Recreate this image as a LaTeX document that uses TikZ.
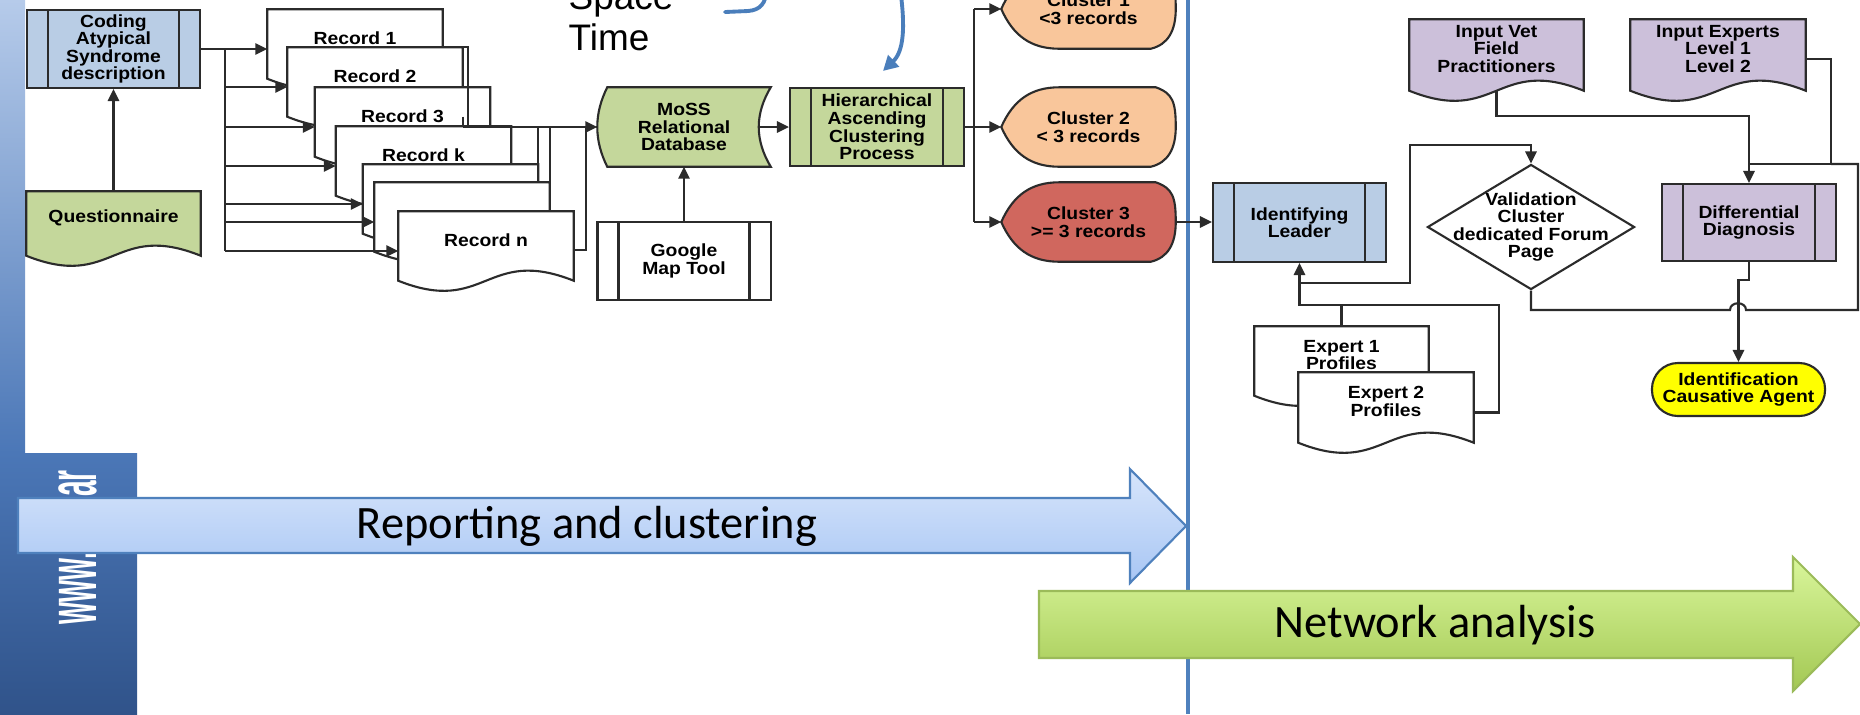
\documentclass[tikz,border=0pt]{standalone}
\usepackage{fontspec}
\setmainfont{Liberation Sans}
\newfontfamily\diagfont{Liberation Sans}[FakeStretch=1.1]
\newfontfamily\calfont{Carlito}
\usetikzlibrary{calc,arrows.meta,shapes.geometric}
\pgfdeclarelayer{back}
\pgfdeclarelayer{bg}
\pgfdeclarelayer{front}
\pgfsetlayers{back,bg,main,front}
\definecolor{lc}{HTML}{2B2B2B}
\definecolor{bgf}{HTML}{B9CDE5}
\definecolor{gf}{HTML}{C4D79B}
\definecolor{peach}{HTML}{F9C69B}
\definecolor{redf}{HTML}{D0675E}
\definecolor{lav}{HTML}{CCC0DA}
\definecolor{yel}{HTML}{FFFF00}
\definecolor{divblue}{HTML}{4F81BD}
\definecolor{blu}{HTML}{4A7EBB}
\definecolor{repA}{HTML}{D7E5FB}
\definecolor{repB}{HTML}{A8C6F4}
\definecolor{netA}{HTML}{D9F69B}
\definecolor{netB}{HTML}{A3C853}
\definecolor{netE}{HTML}{9BBB59}
\definecolor{barA}{HTML}{B6CBEA}
\definecolor{barB}{HTML}{4B77B7}
\definecolor{barC}{HTML}{30538A}
\tikzset{
 ln/.style={draw=lc, line width=0.6pt},
 arr/.style={draw=lc, line width=0.6pt, -{Triangle[length=3.4pt,width=3.2pt]}},
 txt/.style={inner sep=0pt, align=center, font=\diagfont\bfseries\fontsize{5}{5}\selectfont, text=black},
 box/.style={txt, ln, rectangle},
 pp/.style={box, path picture={\draw[lc, line width=0.6pt]
   ([xshift=0.21cm]path picture bounding box.north west) -- ([xshift=0.21cm]path picture bounding box.south west)
   ([xshift=-0.21cm]path picture bounding box.north east) -- ([xshift=-0.21cm]path picture bounding box.south east);}},
 shp/.style={txt, rectangle, draw=none},
 bluline/.style={draw=blu, line width=1.1pt, line cap=round},
}
\newcommand\docshape[2]{%
 \begin{pgfonlayer}{bg}
 \path[ln,fill=#2] (#1.north west) -- (#1.north east) -- ($(#1.south east)+(0,12)$)
   .. controls ($(#1.south)+(0,-23)$) and ($(#1.south)+(0,47)$) .. ($(#1.south west)+(0,12)$) -- cycle;
 \end{pgfonlayer}}
\newcommand\dispshape[2]{%
 \begin{pgfonlayer}{bg}
 \path[ln,fill=#2] (#1.west) .. controls ($(#1.west)+(12,-27)$) and ($(#1.north west)+(30,0)$) .. ($(#1.north west)+(58,0)$)
   -- ($(#1.north east)+(-20,0)$) .. controls ($(#1.north east)+(-3,6)$) and ($(#1.east)+(0,-25)$) .. (#1.east)
   .. controls ($(#1.east)+(0,22)$) and ($(#1.south east)+(-8,-4)$) .. ($(#1.south east)+(-25,0)$)
   -- ($(#1.south west)+(58,0)$) .. controls ($(#1.south west)+(30,0)$) and ($(#1.west)+(12,27)$) .. (#1.west) -- cycle;
 \end{pgfonlayer}}
\begin{document}
\begin{tikzpicture}[x=0.01cm,y=-0.01cm]
\useasboundingbox (0,0) rectangle (1860,714);
% left bar
\begin{pgfonlayer}{back}
\fill[white] (0,0) rectangle (1860,714);
\shade[top color=barA, bottom color=barB] (0,0) rectangle (25,453);
\shade[top color=barB, bottom color=barC] (0,453) rectangle (137,714);
\begin{scope}
\clip (0,453) rectangle (137,714);
\node[rotate=90, anchor=west, inner sep=0, text=white, font=\bfseries\fontsize{20}{20}\selectfont] (www) at (78,625) {\scalebox{0.40}[1]{www.\kern1.96em ar}};
\end{scope}
\draw[divblue, line width=1pt] (1188,0) -- (1188,714);
\end{pgfonlayer}

% ---------- left flowchart ----------
\node[pp, fill=bgf, minimum width=1.73cm, minimum height=0.78cm] (coding) at (113.5,49) {Coding\\Atypical\\Syndrome\\description};
\node[shp, minimum width=1.73cm, minimum height=0.51cm] (quest) at (113.5,217.5) {Questionnaire};
\docshape{quest}{gf}

\node[shp, minimum width=1.74cm, minimum height=0.56cm] (r1) at (355,38) {Record 1};
\node[shp, minimum width=1.74cm, minimum height=0.56cm] (r2) at (375,76) {Record 2};
\node[shp, minimum width=1.74cm, minimum height=0.56cm] (r3) at (402.5,116) {Record 3};
\node[shp, minimum width=1.74cm, minimum height=0.56cm] (rk) at (423.5,155) {Record k};
\node[shp, minimum width=1.74cm, minimum height=0.56cm] (r5) at (450.5,193) {};
\node[shp, minimum width=1.74cm, minimum height=0.56cm] (r6) at (462,211) {};
\node[shp, minimum width=1.74cm, minimum height=0.56cm] (rn) at (486,240) {Record n};
\docshape{r1}{white}\docshape{r2}{white}\docshape{r3}{white}\docshape{rk}{white}
\docshape{r5}{white}\docshape{r6}{white}\docshape{rn}{white}

\node[shp, minimum width=1.72cm, minimum height=0.78cm] (moss) at (684,127) {MoSS\\Relational\\Database};
\begin{pgfonlayer}{bg}
\path[ln, fill=gf] ($(moss.north west)+(10,0)$) -- (moss.north east)
  .. controls ($(moss.east)+(-16,-13)$) and ($(moss.east)+(-16,13)$) .. (moss.south east)
  -- ($(moss.south west)+(10,0)$)
  .. controls ($(moss.west)+(-3.3,13)$) and ($(moss.west)+(-3.3,-13)$) .. ($(moss.north west)+(10,0)$) -- cycle;
\end{pgfonlayer}
\node[pp, fill=gf, minimum width=1.74cm, minimum height=0.78cm] (hac) at (877,127) {Hierarchical\\Ascending\\Clustering\\Process};
\node[pp, fill=white, minimum width=1.73cm, minimum height=0.78cm] (google) at (684,261) {Google\\Map Tool};

\node[shp, minimum width=1.73cm, minimum height=0.78cm] (c1) at (1088.5,9) {Cluster 1\\<3 records};
\node[shp, minimum width=1.73cm, minimum height=0.78cm] (c2) at (1088.5,127) {Cluster 2\\< 3 records};
\node[shp, minimum width=1.73cm, minimum height=0.78cm] (c3) at (1088.5,222) {Cluster 3\\>= 3 records};
\dispshape{c1}{peach}\dispshape{c2}{peach}\dispshape{c3}{redf}

% connectors left
\draw[arr] (quest.north) -- (coding.south);
\coordinate (bus) at (225,0);
\foreach \r in {r1,r2,r3,rk,r5,r6,rn}{
  \coordinate (\r-in) at ($(\r.west)+(0,11)$);
  \draw[arr] (bus |- \r-in) -- (\r-in);
}
\draw[ln] (coding.east) -| (bus |- rn-in);
\coordinate (j1) at (468,127);
\coordinate (j2) at (586,127);
\draw[ln] (r1.east |- r2.north) -| (j1);
\draw[ln] ($(r2.south east)+(0,12)$) -- (r2.east |- j1);
\draw[ln] (r5.north east) -- (r5.east |- j1);
\draw[ln] (r6.north east) -- (r6.east |- j1);
\draw[ln] ($(rn.east)+(0,10)$) -| (j2);
\draw[arr] (r2.east |- j1) -- (moss.west);
\draw[arr] (google.north) -- (moss.south);
\draw[arr] ($(moss.east)+(-12,0)$) -- (hac.west);
\coordinate (hb) at (974,0);
\draw[ln] (hac.east) -- (hac.east -| hb);
\draw[ln] (hb |- c1.west) -- (hb |- c3.west);
\foreach \c in {c1,c2,c3}{\draw[arr] (hb |- \c.west) -- (\c.west);}

% ---------- right flowchart ----------
\node[pp, fill=bgf, minimum width=1.73cm, minimum height=0.79cm] (ident) at (1299.5,222.5) {Identifying\\Leader};
\node[diamond, ln, fill=white, inner sep=0, minimum width=2.07cm, minimum height=1.25cm] (val) at (1531,227) {};
\node[txt] (valtxt) at (val) {Validation\\Cluster\\dedicated Forum\\Page};
\node[pp, fill=lav, minimum width=1.74cm, minimum height=0.77cm] (diff) at (1749,222.5) {Differential\\Diagnosis};
\node[shp, minimum width=1.73cm, minimum height=0.58cm] (vet) at (1496.5,49) {Input Vet\\Field\\Practitioners};
\node[shp, minimum width=1.74cm, minimum height=0.58cm] (expin) at (1718,49) {Input Experts\\Level 1\\Level 2};
\docshape{vet}{lav}\docshape{expin}{lav}
\node[box, fill=yel, minimum width=1.73cm, minimum height=0.53cm, rounded corners=0.26cm] (idc) at (1738.5,389.5) {Identification\\Causative Agent};
\node[shp, minimum width=1.73cm, minimum height=0.56cm] (e1) at (1341.5,355) {Expert 1\\Profiles};
\node[shp, minimum width=1.74cm, minimum height=0.57cm] (e2) at (1386,401.5) {Expert 2\\Profiles};
\docshape{e1}{white}\docshape{e2}{white}

\draw[arr] (c3.east) -- (c3.east -| ident.west);
\coordinate (ej) at (1299.5,305);
\coordinate (e2c) at (1499,305);
\draw[arr] (e1.north) |- (ej) -- (ident.south);
\draw[ln] ($(e2.east)+(0,11)$) -| (e2c) -- (ej);
\coordinate (vl) at (1410,145);
\draw[arr] ($(ident.south)+(0,20)$) -| (vl) -| (val.north);
\coordinate (dj) at (1749,164);
\coordinate (ec) at (1831,164);
\coordinate (fc) at (1858,164);
\draw[arr] ($(vet.south)+(0,12)$) |- ($(diff.north)+(0,-67)$) -- (diff.north);
\draw[ln] ($(expin.east)+(0,10)$) -| (ec) -- (dj);
\draw[ln] (val.south) |- (1730,310) .. controls (1730,301) and (1746,301) .. (1746,310) -| (fc) -- (ec);
\draw[arr] (diff.south) -- ++(0,18) -| (idc.north);

% Space / Time annotation
\node[anchor=base west, align=left, inner sep=0, font=\fontsize{10.5}{11.4}\selectfont] (st) at (568,50) {Space\\Time};
\coordinate (hk0) at (725,12);
\coordinate (hk1) at (767,-12);
\draw[bluline] (hk0) -- (748,11) .. controls (760,10) and (766,4) .. (hk1);
\coordinate (ba0) at (900,-12);
\coordinate (ba1) at ($(hac.north)+(6,-16)$);
\draw[bluline, -{Triangle[length=4.2pt,width=4.4pt]}] (ba0) .. controls (906,30) and (903,52) .. (ba1);

% ---------- big arrows ----------
\begin{pgfonlayer}{front}
\path[shade, top color=repA, bottom color=repB, draw=divblue, line width=0.6pt]
  (18,498) -- (1130,498) -- (1130,469) -- (1186,526) -- (1130,583) -- (1130,553) -- (18,553) -- cycle;
\node[font=\calfont\fontsize{13.2}{15}\selectfont, inner sep=0] (rep) at (587,526) {Reporting and clustering};
\path[shade, top color=netA, bottom color=netB, draw=netE, line width=0.6pt]
  (1039,591) -- (1793,591) -- (1793,557) -- (1860,624) -- (1793,691) -- (1793,658) -- (1039,658) -- cycle;
\node[font=\calfont\fontsize{13.2}{15}\selectfont, inner sep=0] (net) at (1435,625) {Network analysis};
\end{pgfonlayer}
\end{tikzpicture}
\end{document}
